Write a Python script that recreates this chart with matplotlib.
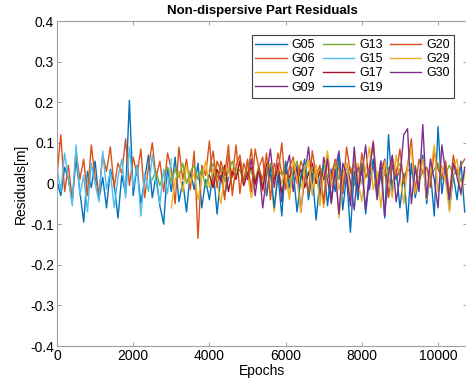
import numpy as np
import matplotlib
matplotlib.use('Agg')
import matplotlib.pyplot as plt
from matplotlib.ticker import FuncFormatter

plt.rcParams['font.family'] = ['Liberation Sans', 'DejaVu Sans']

# residuals in mm, sampled every `step` epochs starting at `start`
step = 100
sats = ['G05', 'G06', 'G07', 'G09', 'G13', 'G15', 'G17', 'G19', 'G20', 'G29', 'G30']
starts = [0, 0, 3000, 5000, 2500, 0, 4000, 5500, 4000, 6000, 7000]

g05 = [5, -30, 40, 10, -45, 60, -20, -95, 30, -10, 55, -40, 15, -60, 35, 0, -85, 20, -25, 205,
       -30, 45, -50, 10, 70, -35, 20, -55, -100, 40, -20, 65, -45, 5, -70, 30, -15, 50, -60, 10,
       -40, 35, -75, 20, -30, 15]
g06 = [20, 120, -20, 45, -40, 80, 10, 60, -30, 95, 15, -25, 70, 30, 90, -10, 50, 25, 110, -5,
       65, 20, 85, -35, 40, 100, 15, 55, -20, 75, 35, -50, 90, 10, 60, -15, 80, -135, 45, 20,
       105, -10, 55, 30, -40, 70, 15, 95, -25, 50, 20, 85, -5, 40, 65, -30, 45, 10, 75, 25, 35]
g07 = [-60, 10, 30, -20, 45, 0, 25, -40, 15, 55, -10, 35, 5, -50, 20, 40, -15, 30, 60, -5,
       25, -35, 10, 45, -20, 35, 15, -70, 30, 0, 50, -25, 20, 40, -10, 25, 55, -30, 15, 35,
       -60, 20, 5, 45, -15, 30, 10, -40, 25, 50, 0]
g09 = [10, 60, -30, 40, -60, 20, 85, -10, 50, -45, 30, 70, -20, 45, -70, 15, 90, 0, 40, -35,
       65, 10, -50, 35, 80, -25, 50, 5, -65, 40, 20, 95, -15, 55, -40, 25, 60, -30, 45, 10, 35]
g13 = [10, 30, -5, 25, 40, 5, 35, 15, 50, 0, 30, 45, 10, 35, -10, 25, 50, 15, 40, 5,
       30, 55, 20, 35, 0, 45, 25, 10, 40, -5, 30, 50, 15, 35, 20, 45, 5, 30, 55, 10,
       40, 20, 35, 0, 25, 45, 15, 30, 50, 10, 35, 20, 40, -5, 30, 45, 15, 25, 55, 10,
       35, 20, 40, 0, 30, 50, 15, 35, 25, 45, 5, 30, 40, 15, 35, 50, 10, 25, 45, 20,
       35, 5, 30]
g15 = [40, -20, 75, 10, -55, 95, -30, 20, -70, 50, 0, -45, 80, -15, 30, -60, 15, 60, -35, 90,
       -10, 45, -80, 25, -20, 70, 5, -50, 35, -25, 60]
g17 = [20, -10, 35, 5, 45, -20, 30, 10, 55, -5, 25, 40, 0, 35, -15, 50, 20, 10, 40, -25,
       30, 15, 45, 5, 35, -10, 25, 50, 0, 30, 15]
g19 = [-30, 40, -60, 20, -80, 55, -10, 30, -70, 15, 60, -40, 25, -90, 10, 45, -55, 35, -20, 70,
       -65, 20, -120, 30, -40, 50, -75, 15, 60, -30, 40, -85, 120, -20, 35, -60, 25, -95, 50, -35,
       10, 70, -50, 30, -80, 140, -25, 45, -65, 20, -40, 55, -70]
g20 = [30, 80, -10, 55, 20, 95, -30, 45, 70, 5, 60, -20, 85, 35, 10, 75, -40, 50, 25, 100,
       -15, 40, 65, 0, 55, 30, -25, 80, 20, 45, -50, 70, 10, 60, 35, -20, 90, 25, 50, -10,
       75, 15, 40, 105, -5, 55, 30, -35, 65, 20, 85, 0, 45, 110, -20, 60, 25, 40, -10, 80,
       35, 15, 55, -30, 70, 20, 45, 60]
g29 = [20, -40, 55, 10, -70, 35, 60, -20, 45, -55, 25, 80, -10, 40, -85, 15, 50, -30, 65, 5,
       -45, 35, 90, -15, 30, -60, 55, 10, -35, 70, 20, -50, 40, 85, -25, 15, 60, -40, 30, 95,
       -20, 45, 5, -70, 35, 60, -30, 25]
g30 = [10, 60, -40, 35, -75, 50, 20, -55, 90, -20, 40, -65, 30, 100, -30, 55, -80, 25, 70, -45,
       15, 120, 135, -50, 40, -20, 145, -35, 60, 10, -60, 95, 25, -40, 50, 15, -25, 40]
series = [g05, g06, g07, g09, g13, g15, g17, g19, g20, g29, g30]

# MATLAB default colour order
mcolors = ['#0072BD', '#D95319', '#EDB120', '#7E2F8E', '#77AC30', '#4DBEEE', '#A2142F']

fig = plt.figure(figsize=(4.66, 3.89), dpi=100)
ax = fig.add_axes([57/466, 43/389, 410/466, 325/389])

for i, (name, s0, vals) in enumerate(zip(sats, starts, series)):
    x = s0 + step*np.arange(len(vals))
    ax.plot(x, np.array(vals)/1000.0, color=mcolors[i % 7], lw=1.0, label=name)

ax.set_xlim(0, 10760)
ax.set_ylim(-0.4, 0.4)
ax.set_xticks([0, 2000, 4000, 6000, 8000, 10000])
ax.set_yticks(np.arange(-0.4, 0.41, 0.1))
ax.yaxis.set_major_formatter(FuncFormatter(lambda v, p: '0' if abs(v) < 1e-9 else f'{v:.1f}'))
ax.tick_params(direction='in', length=3, width=0.6, color='#909090', labelsize=10,
               top=True, right=True, pad=2)
for sp in ax.spines.values():
    sp.set_color('#a0a0a0')
    sp.set_linewidth(0.8)

ax.set_title('Non-dispersive Part Residuals', fontsize=9.5, fontweight='bold', pad=5)
ax.set_xlabel('Epochs', fontsize=10, labelpad=1)
ax.set_ylabel('Residuals[m]', fontsize=10, labelpad=2)

leg = ax.legend(ncol=3, loc='upper right', bbox_to_anchor=(460/466, 1 - 29/389),
                bbox_transform=fig.transFigure, fontsize=9, handlelength=2.5,
                columnspacing=0.6, labelspacing=0.18, handletextpad=0.4,
                borderpad=0.3, fancybox=False, framealpha=1)
leg.get_frame().set_edgecolor('#404040')
leg.get_frame().set_linewidth(0.8)

fig.savefig('out.png', dpi=100)
